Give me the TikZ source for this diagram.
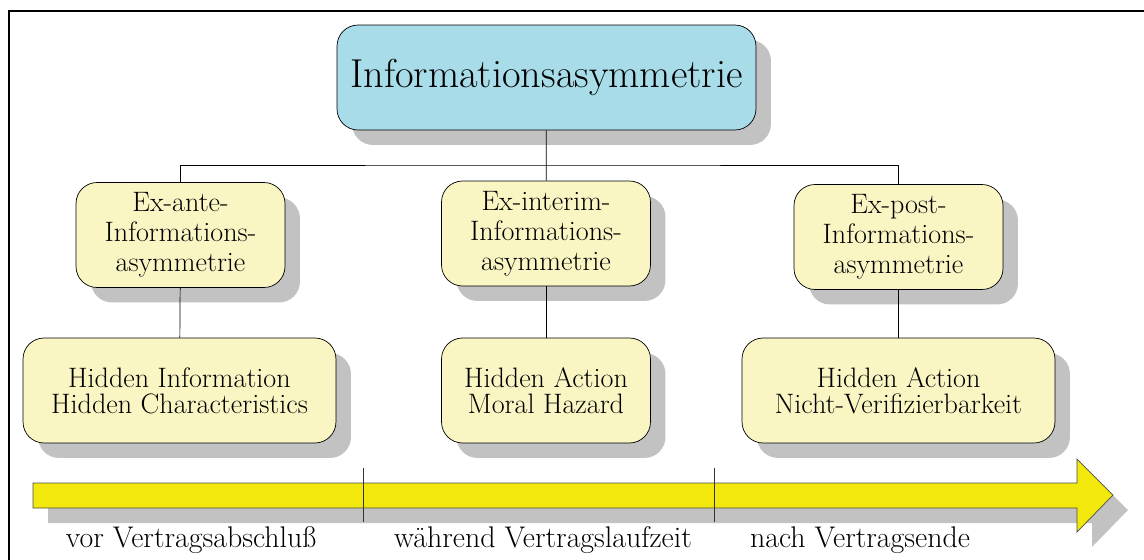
\documentclass[tikz,border=0pt]{standalone}
\usetikzlibrary{shadows}

\definecolor{titleblue}{HTML}{A7DCE8}
\definecolor{boxyellow}{HTML}{FAF6C4}
\definecolor{arrowyellow}{HTML}{F2E80C}
\definecolor{shadowgray}{HTML}{C2C2C2}

\begin{document}
\begin{tikzpicture}[x=0.02cm, y=-0.02cm,
   box/.style={draw, rounded corners=0.42cm, fill=boxyellow, align=center,
      font=\fontsize{16}{14.8}\selectfont, inner sep=0pt,
      drop shadow={shadow xshift=0.3cm, shadow yshift=-0.3cm, fill=shadowgray, opacity=1}},
   small/.style={box, minimum width=4.18cm, minimum height=2.1cm},
   wide/.style={box, minimum width=6.26cm, minimum height=2.1cm},
   level/.style={small, font=\fontsize{16}{17}\selectfont},
   phase/.style={font=\fontsize{17}{18}\selectfont, anchor=base}]
   \useasboundingbox (0,0) rectangle (1144,559);
   \draw[line width=1.3pt] (9,600) -- (9,11) -- (1200,11);

   \node[box, fill=titleblue, minimum width=8.38cm, minimum height=2.1cm,
      font=\fontsize{23}{26}\selectfont] (info) at (546.5,77.5) {Informationsasymmetrie};

   \node[level] (ante) at (180.5,235) {Ex-ante-\\Informations-\\asymmetrie};
   \node[level] (interim) at (546,233.5) {Ex-interim-\\Informations-\\asymmetrie};
   \node[level] (post) at (898.5,237) {Ex-post-\\Informations-\\asymmetrie};

   \node[wide] (hinfo) at (179.5,390.5) {Hidden Information\\Hidden Characteristics};
   \node[small] (haction) at (546,390.5) {Hidden Action\\Moral Hazard};
   \node[wide] (verif) at (898.5,390.5) {Hidden Action\\Nicht-Verifizierbarkeit};

   % Verbindungen
   \coordinate (bus) at (546,165);
   \draw (info) -- (interim);
   \draw (ante.north) |- (bus) -| (post.north);
   \draw (ante) -- (hinfo);
   \draw (interim) -- (haction);
   \draw (post) -- (verif);

   % Zeitpfeil
   \fill[shadowgray, shift={(15,15)}] (33,483) -- (1077,483) -- (1077,459) -- (1113,495)
      -- (1077,532) -- (1077,508) -- (33,508) -- cycle;
   \draw[fill=arrowyellow, draw=black!70] (33,483) -- (1077,483) -- (1077,459) -- (1113,495)
      -- (1077,532) -- (1077,508) -- (33,508) -- cycle;
   \foreach \x in {363,714}
   \draw[black!80] (\x,468) -- (\x,522);

   \node[phase] (vor) at (191,547) {vor Vertragsabschlu\ss};
   \node[phase] (waehrend) at (543,547) {w\"ahrend Vertragslaufzeit};
   \node[phase] (nach) at (860,547) {nach Vertragsende};
\end{tikzpicture}
\end{document}
